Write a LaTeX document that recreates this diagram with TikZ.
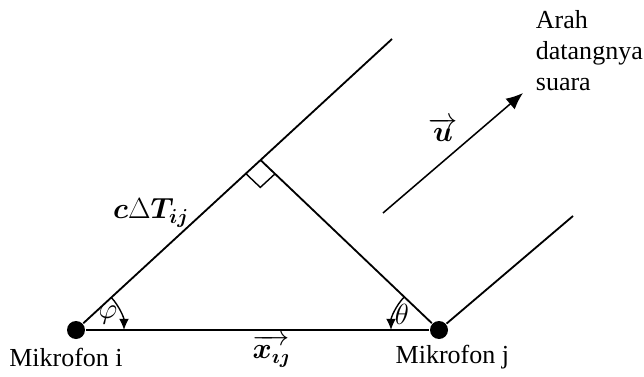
\documentclass[tikz,border=0pt]{standalone}
\usepackage{fontspec}
\setmainfont{Liberation Serif}
\usepackage{amsmath, bm}
\usetikzlibrary{calc, arrows.meta}
\tikzset{
  mic/.style={circle, fill, inner sep=0pt, minimum size=0.45cm},
  lbl/.style={inner sep=0pt, font=\fontsize{18.5}{22}\selectfont},
  mlbl/.style={inner sep=0pt, font=\fontsize{21}{24}\selectfont},
  angarrow/.style={->, line width=1pt, >={Latex[length=8pt,width=7pt]}}
}
\begin{document}
\begin{tikzpicture}[>={Latex[length=12pt,width=10pt]}, line width=1.3pt]
  \useasboundingbox (0,0) rectangle (16.1,9.4);
  \node[mic] (mici) at (1.9,1.15) {};
  \node[mic] (micj) at (10.975,1.15) {};
  \coordinate (top) at (9.8,8.425);
  \coordinate (right) at (14.325,4.0);
  \coordinate (corner) at ($(mici)!0.584!(top)$);
  % wavefronts and baseline
  \draw (mici) -- (top);
  \draw (micj) -- (right);
  \draw (mici) -- (micj);
  \draw (corner) -- (micj);
  % right angle mark
  \coordinate (ra) at ($(corner)!0.5cm!(mici.center)$);
  \coordinate (rb) at ($(corner)!0.5cm!(micj.center)$);
  \draw[line width=1pt] (ra) -- ($(ra)+(rb)-(corner)$) -- (rb);
  % angles
  \draw[angarrow] ([shift={(42.6:1.2)}]mici.center) arc[start angle=42.6, end angle=0, radius=1.2];
  \draw[angarrow] ([shift={(136.4:1.2)}]micj.center) arc[start angle=136.4, end angle=180, radius=1.2];
  \node[mlbl] (phi) at (2.7,1.525) {$\varphi$};
  \node[mlbl] (theta) at (10.05,1.55) {$\theta$};
  % labels
  \node[mlbl] (xij) at (6.775,0.62) {$\overrightarrow{\bm{x}_{\bm{\imath\jmath}}}$};
  \node[lbl] (labi) at (1.65,0.475) {Mikrofon i};
  \node[lbl] (labj) at (11.31,0.475) {Mikrofon j};
  \node[mlbl] (cdt) at (3.775,4.075) {$\bm{c}\Delta\bm{T}_{\bm{ij}}$};
  \node[mlbl] (uvec) at (11.075,6.15) {$\overrightarrow{\bm{u}}$};
  \node[lbl, anchor=north west, align=left] (arah) at (13.375,9.15) {Arah\\datangnya\\suara};
  % sound direction
  \coordinate (ustart) at (9.575,4.075);
  \coordinate (uend) at (13.075,7.075);
  \draw[->, line width=1.1pt] (ustart) -- (uend);
\end{tikzpicture}
\end{document}
